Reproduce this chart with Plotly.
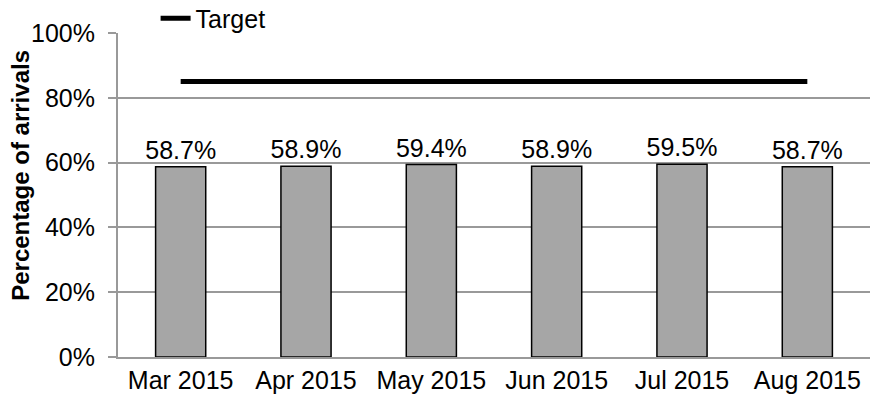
import plotly.graph_objects as go

months = ["Mar 2015", "Apr 2015", "May 2015", "Jun 2015", "Jul 2015", "Aug 2015"]
arrivals_pct = [58.7, 58.9, 59.4, 58.9, 59.5, 58.7]
target_pct = [85, 85, 85, 85, 85, 85]
y_ticks = [0, 20, 40, 60, 80, 100]
y_tick_labels = ["0%", "20%", "40%", "60%", "80%", "100%"]
y_title = "Percentage of arrivals"

font_family = "Liberation Sans, Arial, sans-serif"

fig = go.Figure()
fig.add_trace(go.Bar(
    x=months, y=arrivals_pct,
    marker=dict(color="#a6a6a6", line=dict(color="#000000", width=1.5)),
    width=0.4,
    text=[f"{v:.1f}%" for v in arrivals_pct],
    textposition="outside",
    constraintext="none",
    textfont=dict(size=25, color="#000000", family=font_family),
    cliponaxis=False,
    showlegend=False,
))
fig.add_trace(go.Scatter(
    x=months, y=target_pct, mode="lines", name="Target",
    line=dict(color="#000000", width=5),
))

fig.add_annotation(
    text=f"<b>{y_title}</b>", textangle=-90,
    xref="paper", yref="paper", x=-0.13, y=0.56,
    xanchor="center", yanchor="middle", showarrow=False,
    font=dict(size=24, color="#000000", family=font_family),
)

fig.update_layout(
    width=875, height=410,
    margin=dict(l=118, r=5, t=33, b=53, autoexpand=False),
    paper_bgcolor="white", plot_bgcolor="white",
    font=dict(family=font_family, size=25, color="#000000"),
    legend=dict(x=0.05, y=1.045, xanchor="left", yanchor="middle",
                orientation="h", font=dict(size=25),
                bgcolor="rgba(0,0,0,0)", itemwidth=30),
    xaxis=dict(showline=True, linecolor="#999999", linewidth=2,
               ticks="", tickfont=dict(size=25), showgrid=False),
    yaxis=dict(range=[0, 100], tickvals=y_ticks, ticktext=y_tick_labels,
               showgrid=True, gridcolor="#999999", gridwidth=2,
               showline=True, linecolor="#999999", linewidth=2,
               ticks="outside", ticklen=8, tickcolor="#999999", tickwidth=2,
               ticklabelstandoff=8,
               tickfont=dict(size=25), zeroline=False),
)

fig.write_html("out.html", config={"displayModeBar": False},
               post_script="document.body.style.margin='0px';")
